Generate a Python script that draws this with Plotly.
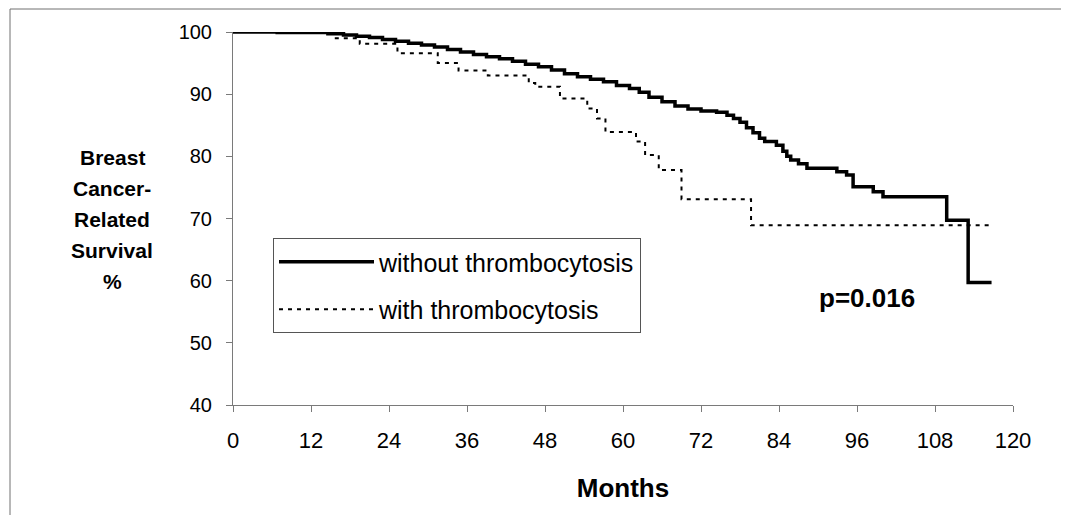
import plotly.graph_objects as go

# ---- data ----
months_without = [0, 6.8, 14.6, 17, 19, 21, 23, 25, 27, 29, 31, 33, 35, 37, 39, 41, 43, 45, 47, 49,
                  51, 53, 55, 57, 59, 61, 62.5, 64, 66, 68, 70, 72, 74.4, 76, 77, 78, 79, 80, 81,
                  81.8, 83.6, 84.6, 85.2, 85.8, 87, 88.3, 92.9, 94.4, 95.4, 98.5, 100, 109.8, 113.1, 116.7]
surv_without = [100, 99.9, 99.7, 99.5, 99.3, 99.1, 98.8, 98.5, 98.2, 97.9, 97.6, 97.2, 96.8, 96.4, 96.0,
                95.7, 95.3, 94.8, 94.4, 93.9, 93.3, 92.8, 92.4, 92.0, 91.4, 90.9, 90.3, 89.5, 88.8, 88.1,
                87.6, 87.3, 87.1, 86.6, 86.1, 85.5, 84.6, 83.8, 82.9, 82.4, 81.8, 80.8, 80.0, 79.4, 78.8,
                78.1, 77.5, 77.0, 75.1, 74.3, 73.5, 69.7, 59.7, 59.7]

months_with = [0, 15.5, 19.5, 25.3, 31.5, 34.7, 39.2, 45.5, 46.5, 50.3, 54.5, 56, 57.3, 62, 63.4,
               65.5, 69, 79.7, 116.5]
surv_with = [100, 99.0, 98.1, 96.6, 95.0, 93.8, 93.0, 91.8, 91.2, 89.3, 87.7, 86.1, 83.9, 82.4, 80.2,
             77.8, 73.1, 68.9, 68.9]

x_ticks = [0, 12, 24, 36, 48, 60, 72, 84, 96, 108, 120]
y_ticks = [40, 50, 60, 70, 80, 90, 100]
series_names = ["without thrombocytosis", "with thrombocytosis"]
y_title_lines = ["Breast", "Cancer-", "Related", "Survival", "%"]
x_title = "Months"
p_text = "p=0.016"

FONT = "Liberation Sans, Arial, sans-serif"
OFF = 8  # page body margin
W, H = 1069 - OFF, 515 - OFF
ML, MR, MT, MB = 233 - OFF, 56, 32 - OFF, 110
PW, PH = W - ML - MR, H - MT - MB


def px_x(px):
    return (px - OFF - ML) / PW


def px_y(py):
    return (H - MB - (py - OFF)) / PH


fig = go.Figure()
fig.add_trace(go.Scatter(x=months_without, y=surv_without, mode="lines", name=series_names[0],
                         line=dict(color="black", width=3.5, shape="hv"), legendgroup="a"))
fig.add_trace(go.Scatter(x=months_with, y=surv_with, mode="lines", name=series_names[1],
                         line=dict(color="black", width=2, shape="hv", dash="4px,5px"), legendgroup="b"))

axis_common = dict(showgrid=False, zeroline=False, showline=True, linecolor="#7a7a7a", linewidth=1,
                   ticks="outside", tickcolor="#7a7a7a", tickwidth=1)

fig.update_xaxes(range=[0, 120], tickvals=x_ticks, ticklen=6, ticklabelstandoff=10,
                 tickfont=dict(family=FONT, size=22, color="black"),
                 title=dict(text=x_title, font=dict(family=FONT, size=26, color="black", weight="bold"),
                            standoff=26),
                 **axis_common)
fig.update_yaxes(range=[40, 100], tickvals=y_ticks, ticklen=6, ticklabelstandoff=10,
                 tickfont=dict(family=FONT, size=20, color="black"), **axis_common)

for i, line in enumerate(y_title_lines):
    fig.add_annotation(text="<b>" + line + "</b>", xref="paper", yref="paper",
                       x=px_x(112), y=px_y(157 + 31.2 * i), xanchor="center", yanchor="middle",
                       showarrow=False, font=dict(family=FONT, size=21, color="black"))
fig.add_annotation(text="<b>" + p_text + "</b>", xref="paper", yref="paper",
                   x=px_x(867), y=px_y(298), xanchor="center", yanchor="middle", showarrow=False,
                   font=dict(family=FONT, size=26, color="black"))

# outer frame
frame = dict(type="line", xref="paper", yref="paper", line=dict(color="#707070", width=1))
fig.add_shape(x0=px_x(10), x1=px_x(1066), y0=px_y(9), y1=px_y(9), **frame)
fig.add_shape(x0=px_x(10), x1=px_x(10), y0=px_y(9), y1=px_y(520), **frame)
fig.add_shape(x0=px_x(1066), x1=px_x(1066), y0=px_y(9), y1=px_y(520), **frame)

fig.update_layout(
    width=W, height=H, margin=dict(l=ML, r=MR, t=MT, b=MB),
    paper_bgcolor="white", plot_bgcolor="white",
    font=dict(family=FONT, color="black"),
    showlegend=True,
    legend=dict(x=px_x(273), y=px_y(238), xanchor="left", yanchor="top",
                bordercolor="#555555", borderwidth=1, bgcolor="white",
                font=dict(family=FONT, size=25, color="black"),
                itemwidth=95, tracegroupgap=12, traceorder="grouped",
                entrywidth=282, entrywidthmode="pixels"),
)

fig.write_html("out.html")
